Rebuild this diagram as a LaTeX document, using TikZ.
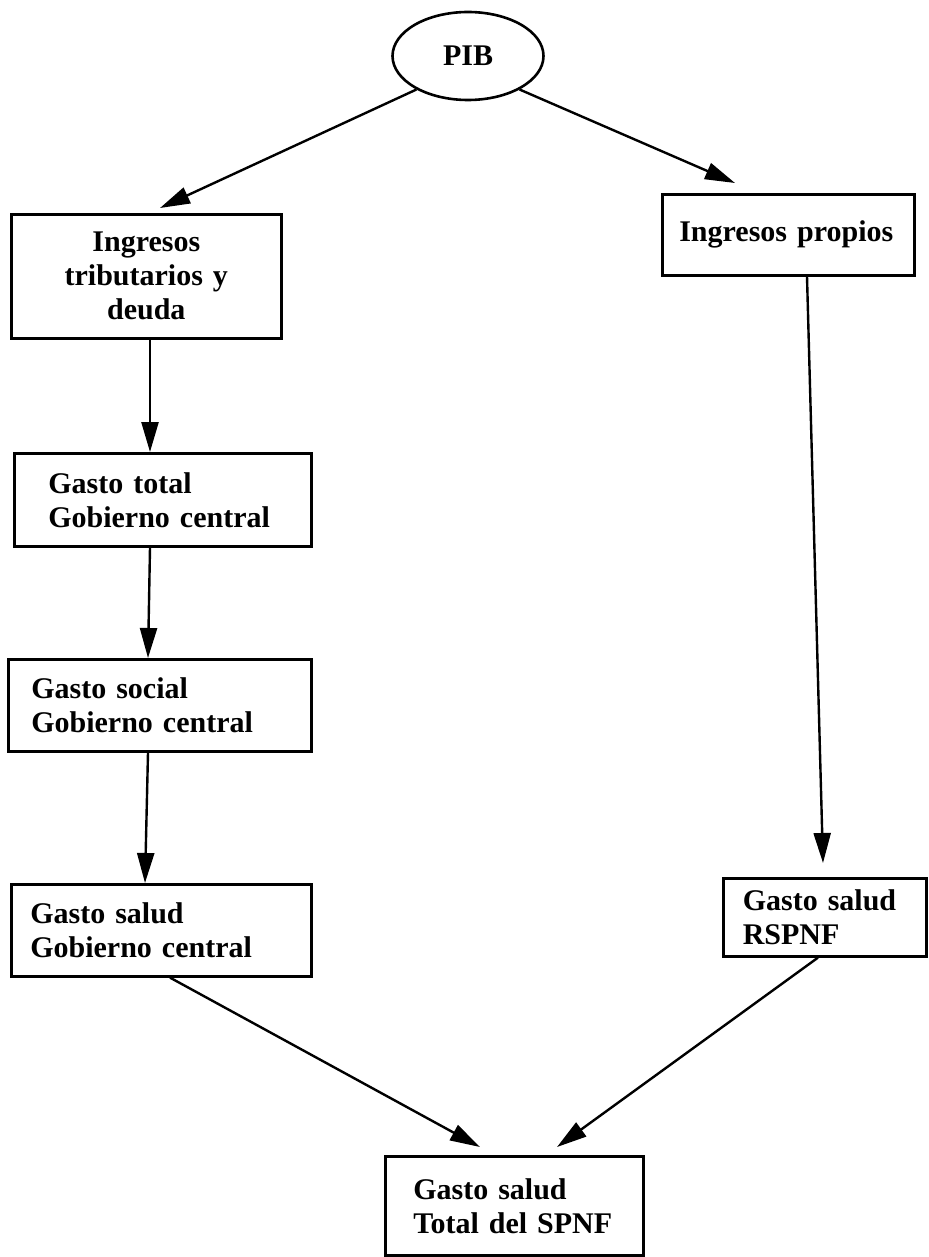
\documentclass[tikz,border=0pt]{standalone}
\usepackage{fontspec}
\setmainfont{Liberation Serif}
\usepackage{tikz}
\usetikzlibrary{positioning}
\usetikzlibrary{arrows.meta}
\usetikzlibrary{shapes.geometric}

\begin{document}
\begin{tikzpicture}[x=0.5pt, y=-0.5pt,
    main/.style = {draw, line width=1.3pt, inner sep=0pt, font=\fontsize{15}{17}\selectfont\bfseries},
    box/.style = {main, anchor=north west, align=left},
    arr/.style = {line width=1.2pt, -{Triangle[length=15pt, width=8.5pt]}}]
    \useasboundingbox (0,0) rectangle (929,1257);

    \node[main, ellipse, minimum width=75.5pt, minimum height=44pt] (pib) at (468,56) {PIB};
    \node[box, align=center, minimum width=135pt, minimum height=62pt, text width=120pt] (trib) at (10,213) {Ingresos\\tributarios y\\deuda};
    \node[box, minimum width=126pt, minimum height=40.5pt, text width=109pt] (propios) at (661,193) {Ingresos propios};
    \node[box, minimum width=148.5pt, minimum height=46.5pt, text width=114.5pt] (totgc) at (13,452) {Gasto total\\Gobierno central};
    \node[box, minimum width=151.5pt, minimum height=46pt, text width=128.5pt] (social) at (7,658) {Gasto social\\Gobierno central};
    \node[box, minimum width=150pt, minimum height=46pt, text width=131pt] (saludgc) at (10,883) {Gasto salud\\Gobierno central};
    \node[box, minimum width=101.5pt, minimum height=39pt, text width=82pt] (rspnf) at (722,877) {Gasto salud\\RSPNF};
    \node[box, minimum width=129pt, minimum height=49.5pt, text width=101pt] (total) at (384,1155) {Gasto salud\\Total del SPNF};

    \draw[arr] (pib.213) -- ([xshift=75pt, yshift=2.5pt]trib.north west);
    \draw[arr] (pib.327) -- ([xshift=37pt, yshift=5pt]propios.north west);
    \draw[arr] ([xshift=70pt]trib.south west) -- ([xshift=68.5pt]totgc.north west);
    \draw[arr] ([xshift=68.5pt]totgc.south west) -- ([xshift=70.5pt]social.north west);
    \draw[arr] ([xshift=70.5pt]social.south west) -- ([xshift=67.5pt]saludgc.north west);
    \draw[arr] ([xshift=73pt]propios.south west) -- ([xshift=50.5pt, yshift=7pt]rspnf.north west);
    \draw[arr] ([xshift=80pt]saludgc.south west) -- ([xshift=48pt, yshift=4pt]total.north west);
    \draw[arr] ([xshift=48pt]rspnf.south west) -- ([xshift=86.5pt, yshift=4pt]total.north west);

\end{tikzpicture}
\end{document}
